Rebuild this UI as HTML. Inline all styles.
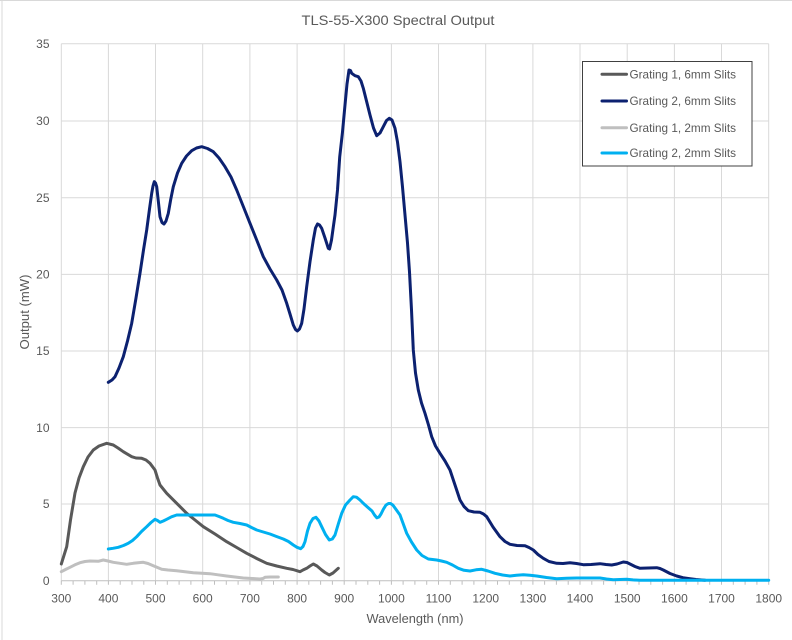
<!DOCTYPE html>
<html>
<head>
<meta charset="utf-8">
<style>
html,body{margin:0;padding:0;background:#fff;}
svg{display:block;}
text{font-family:"Liberation Sans",sans-serif;fill:#595959;}
</style>
</head>
<body>
<svg width="792" height="640" viewBox="0 0 792 640" xmlns="http://www.w3.org/2000/svg">
<rect x="0" y="0" width="792" height="640" fill="#fff"/>
<line x1="2" y1="0" x2="2" y2="640" stroke="#d9d9d9" stroke-width="1"/>
<line x1="0" y1="0.5" x2="792" y2="0.5" stroke="#d9d9d9" stroke-width="1"/>

<!-- title -->
<text x="398" y="25" font-size="14" text-anchor="middle" textLength="193" lengthAdjust="spacingAndGlyphs">TLS-55-X300 Spectral Output</text>

<!-- gridlines -->
<g stroke="#d9d9d9" stroke-width="1">
<line x1="61.3" y1="43.7" x2="768.7" y2="43.7"/>
<line x1="61.3" y1="121.0" x2="768.7" y2="121.0"/>
<line x1="61.3" y1="197.7" x2="768.7" y2="197.7"/>
<line x1="61.3" y1="274.4" x2="768.7" y2="274.4"/>
<line x1="61.3" y1="351.0" x2="768.7" y2="351.0"/>
<line x1="61.3" y1="427.6" x2="768.7" y2="427.6"/>
<line x1="61.3" y1="504.0" x2="768.7" y2="504.0"/>
<line x1="61.3" y1="43.7" x2="61.3" y2="580.7"/>
<line x1="108.4" y1="43.7" x2="108.4" y2="580.7"/>
<line x1="155.5" y1="43.7" x2="155.5" y2="580.7"/>
<line x1="202.7" y1="43.7" x2="202.7" y2="580.7"/>
<line x1="249.9" y1="43.7" x2="249.9" y2="580.7"/>
<line x1="297.1" y1="43.7" x2="297.1" y2="580.7"/>
<line x1="344.2" y1="43.7" x2="344.2" y2="580.7"/>
<line x1="391.4" y1="43.7" x2="391.4" y2="580.7"/>
<line x1="438.5" y1="43.7" x2="438.5" y2="580.7"/>
<line x1="485.7" y1="43.7" x2="485.7" y2="580.7"/>
<line x1="532.9" y1="43.7" x2="532.9" y2="580.7"/>
<line x1="580.0" y1="43.7" x2="580.0" y2="580.7"/>
<line x1="627.2" y1="43.7" x2="627.2" y2="580.7"/>
<line x1="674.4" y1="43.7" x2="674.4" y2="580.7"/>
<line x1="721.5" y1="43.7" x2="721.5" y2="580.7"/>
<line x1="768.7" y1="43.7" x2="768.7" y2="580.7"/>
</g>

<!-- x axis and ticks -->
<line x1="61.3" y1="580.7" x2="768.7" y2="580.7" stroke="#bfbfbf" stroke-width="1"/>
<path id="ticks" stroke="#bfbfbf" stroke-width="1" fill="none" d="
M61.3 580.7v4 M73.1 580.7v4 M84.9 580.7v4 M96.7 580.7v4
M108.4 580.7v4 M120.2 580.7v4 M132.0 580.7v4 M143.8 580.7v4
M155.5 580.7v4 M167.3 580.7v4 M179.1 580.7v4 M190.9 580.7v4
M202.7 580.7v4 M214.5 580.7v4 M226.3 580.7v4 M238.1 580.7v4
M249.9 580.7v4 M261.7 580.7v4 M273.5 580.7v4 M285.3 580.7v4
M297.1 580.7v4 M308.8 580.7v4 M320.6 580.7v4 M332.4 580.7v4
M344.2 580.7v4 M356.0 580.7v4 M367.8 580.7v4 M379.6 580.7v4
M391.4 580.7v4 M403.1 580.7v4 M414.9 580.7v4 M426.7 580.7v4
M438.5 580.7v4 M450.3 580.7v4 M462.1 580.7v4 M473.9 580.7v4
M485.7 580.7v4 M497.5 580.7v4 M509.3 580.7v4 M521.1 580.7v4
M532.9 580.7v4 M544.6 580.7v4 M556.4 580.7v4 M568.2 580.7v4
M580.0 580.7v4 M591.8 580.7v4 M603.6 580.7v4 M615.4 580.7v4
M627.2 580.7v4 M639.0 580.7v4 M650.8 580.7v4 M662.6 580.7v4
M674.4 580.7v4 M686.1 580.7v4 M697.9 580.7v4 M709.7 580.7v4
M721.5 580.7v4 M733.3 580.7v4 M745.1 580.7v4 M756.9 580.7v4
M768.7 580.7v4"/>

<!-- y tick labels -->
<g font-size="12" text-anchor="end">
<text x="49.5" y="48">35</text>
<text x="49.5" y="125">30</text>
<text x="49.5" y="202">25</text>
<text x="49.5" y="278.5">20</text>
<text x="49.5" y="355">15</text>
<text x="49.5" y="432">10</text>
<text x="49.5" y="508">5</text>
<text x="49.5" y="585">0</text>
</g>
<!-- x tick labels -->
<g font-size="12" text-anchor="middle">
<text x="61.3" y="602.5">300</text>
<text x="108.4" y="602.5">400</text>
<text x="155.5" y="602.5">500</text>
<text x="202.7" y="602.5">600</text>
<text x="249.9" y="602.5">700</text>
<text x="297.1" y="602.5">800</text>
<text x="344.2" y="602.5">900</text>
<text x="391.4" y="602.5">1000</text>
<text x="438.5" y="602.5">1100</text>
<text x="485.7" y="602.5">1200</text>
<text x="532.9" y="602.5">1300</text>
<text x="580.0" y="602.5">1400</text>
<text x="627.2" y="602.5">1500</text>
<text x="674.4" y="602.5">1600</text>
<text x="721.5" y="602.5">1700</text>
<text x="768.7" y="602.5">1800</text>
</g>

<!-- axis titles -->
<text x="415" y="623" font-size="13" text-anchor="middle" textLength="97" lengthAdjust="spacingAndGlyphs">Wavelength (nm)</text>
<text transform="translate(29,312) rotate(-90)" font-size="13" text-anchor="middle" textLength="75" lengthAdjust="spacingAndGlyphs">Output (mW)</text>

<!-- series -->
<g fill="none" stroke-width="3" stroke-linejoin="round" stroke-linecap="round">
<polyline stroke="#595959" points="61.3,564 66.7,546.7 70.5,520 75,493 79,478 83.3,466.7 88,457 93.3,450 99,446 106.7,443.3 113.3,445 118,448 123.3,451.7 131.7,456.7 136,458 141.7,458.3 146,460 150,463.3 155,470 157.5,478 160,485 166.7,493.3 176.7,503.3 186.7,513.3 195,520 203.3,526.7 215,534 226.7,541.7 236.7,547.5 246.7,553.3 256.7,558.5 266.7,563.3 276.7,566 286.7,568.3 293,569.5 300,571.7 303,570 306.7,568.3 310,566 313.3,564 317,566 321.7,570 325,572.5 329.3,575 333,573 338.3,568.3"/>
<polyline stroke="#0c2170" points="108.3,382.3 112,380 115,376.7 119,368 123.3,356.7 127.5,341 131.7,323.3 136,298 140,273.3 143.5,250 146.7,230 149.5,209 151.7,193.3 153,186 154.3,181.7 155.5,183 156.7,186.7 158.3,201 160,216.7 162,222.5 164,224 166,221 168.3,213.3 170.8,199 173.3,186.7 177.5,173 181.7,163.3 186.5,156 191.7,150.7 196.5,148 201.7,146.7 207.5,148.5 213.3,151.7 219,158 225,166.7 231,177 236.7,190 243.3,206.5 250,223.3 256.7,240 263.3,256.7 270,269 276.7,280 282,290 286.7,303.3 290,314 293.3,325 295.5,329.5 297.3,331 299.5,329 301.7,323.3 304,309 306.7,286.7 310,261.7 313.3,240 315.5,228 317.5,224 319.5,225 321.7,228.3 325,238 328.3,248.3 329.5,249 331.5,240 333.3,227 335,215 337.5,190 339.7,157 342.5,132 345,105 347,84 349,70 350.5,70.5 351.7,73.3 355,75.7 358.3,76.7 361,81 363.3,88.3 366.5,101 370,115 373.5,128 376.7,135.7 380,133 383.3,126.7 386.5,120.5 389.3,118.3 392,120 395,128.3 397.5,142 400,161.7 402.5,187 405,215 407.5,243 409.5,272 411.5,310 413.3,350 415.5,373 418.3,390 421.5,403 425,413.3 428.5,425 431.7,436.7 435.5,446 440,453.3 445,461 450,470 455,485 460,500 464,506.5 468.3,510.7 474,512 480,512.3 483.5,514 486.7,516.7 493,527 500,536.7 505,541.5 510,544.3 517,545.5 525,545.7 529,547.5 533.3,550 538,554.5 543.3,558.3 549,561.5 556.7,563.3 563,563.5 570,562.7 576.5,563.5 583.3,564.7 591,564.5 600,563.7 606,564.5 611.7,565 617,564 623.3,562 627,562.5 630,564 635,566.5 640,568.3 648,568 656.7,567.7 660,568.5 663.3,570 670,573.5 676.7,576 683,577.7 690,578.7 696,579.5 701.7,580 705,580.3"/>
<polyline stroke="#bfbfbf" points="61.3,571.7 65.5,569.5 70,567.3 75,564.8 80,562.7 85,561.5 90,561 98.3,561.3 103.3,560 108,561 113.3,562.3 120,563.3 126.7,564.3 133.3,563.3 138,562.7 143.3,562.3 148,563.5 153.3,565.7 157.5,567.5 161.7,569.3 168,570 176.7,570.7 185,571.7 193.3,572.7 202,573.2 210,573.7 218,574.8 226.7,576 235,577 243.3,578 252,578.5 260,579 263,578.5 265,577.3 270,577 278.3,577"/>
<polyline stroke="#00b0f0" points="108.3,549 113,548.3 118.3,547.3 123.5,545.5 128.3,543.3 132.5,540.5 136.7,536.7 141.5,531.5 146.7,526.7 151,522.5 155,519.3 157.5,520.5 160,522.3 163.3,521 166.7,519.3 171.5,516.8 176.7,515 185,515 193.3,515 204,515 215,515 219,516.5 223.3,518.3 228,520.5 233.3,522.3 240,523.5 246.7,525 251.5,527.5 256.7,530 263.3,532 270,534 276.5,536.5 283.3,539 288.5,541.5 293.3,545 297,547.3 300.7,548.7 303,546.5 305,541.7 307.5,531 310,523.3 313,518.5 316,517.3 319,521 321.7,526.7 325.5,534.5 329.3,540 332.3,539 335,535 338.3,524 341.7,513.3 345.5,505 350,500 353.3,496.7 356.5,497.2 360,500 363.5,503.5 367.4,507 372,511 374.5,515 376.8,517.8 379,517 381,514 383.5,509 386,505 388.5,503.5 390.5,503.5 392.8,505 395,508 397.5,511.5 400,515 403.3,524 406.7,533.3 411.5,542 416.7,550 422,555.5 428.3,559 432.5,559.5 436.7,560 441.5,561 446.7,562.3 452.5,565 458.3,568.3 464,570.3 470,571 476,569.8 481.7,569.3 488,571 495,573.3 502.5,575 510,576 516.5,575.2 523.3,574.7 530,575.3 536.7,576 546.5,577.5 556.7,578.7 566.5,578.3 576.7,578 588,578 600,578 606.5,579 613.3,579.7 620,579.5 626.7,579.3 633,579.9 640,580.3 700,580.3 768.7,580.3"/>
</g>

<!-- legend -->
<rect x="582.5" y="61.5" width="169.5" height="104.5" fill="#fff" stroke="#404040" stroke-width="1"/>
<g stroke-width="3" stroke-linecap="round">
<line x1="602" y1="74.3" x2="626.5" y2="74.3" stroke="#595959"/>
<line x1="602" y1="101" x2="626.5" y2="101" stroke="#0c2170"/>
<line x1="602" y1="127.7" x2="626.5" y2="127.7" stroke="#bfbfbf"/>
<line x1="602" y1="153" x2="626.5" y2="153" stroke="#00b0f0"/>
</g>
<g font-size="12">
<text x="629.5" y="78.5" textLength="106.5" lengthAdjust="spacingAndGlyphs">Grating 1, 6mm Slits</text>
<text x="629.5" y="105.2" textLength="106.5" lengthAdjust="spacingAndGlyphs">Grating 2, 6mm Slits</text>
<text x="629.5" y="131.9" textLength="106.5" lengthAdjust="spacingAndGlyphs">Grating 1, 2mm Slits</text>
<text x="629.5" y="157.2" textLength="106.5" lengthAdjust="spacingAndGlyphs">Grating 2, 2mm Slits</text>
</g>
</svg>
</body>
</html>
